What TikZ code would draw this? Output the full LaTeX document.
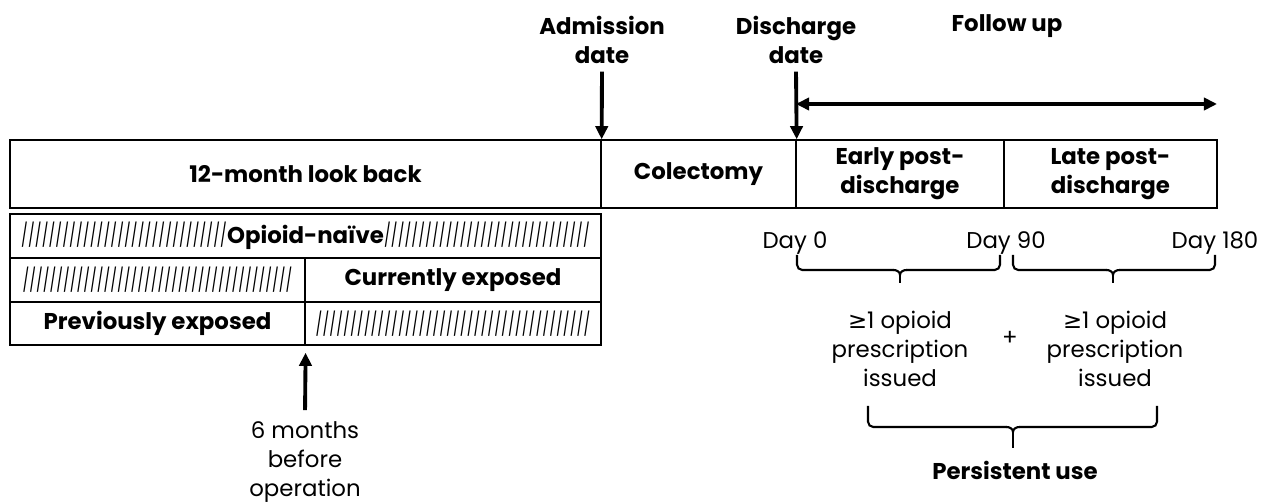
\documentclass[tikz,border=0pt]{standalone}
\usepackage{fontspec}
\setmainfont{Poppins}
\newfontfamily\symfont{DejaVu Sans}
\usetikzlibrary{arrows.meta,calc}

\newcommand\hatchfill{\xleaders\hbox{\scalebox{0.62}[1]{/}}\hfill}

\tikzset{
  cell/.style={draw, line width=0.8pt, inner sep=0pt, align=center, font=\bfseries},
  heading/.style={align=center, font=\bfseries},
  note/.style={align=center},
  tip/.style={Triangle[length=7.5pt,width=7pt]},
  pointer/.style={line width=2.2pt, -{Triangle[length=7.5pt,width=7pt]}},
  bracket/.style={line width=1.2pt, rounded corners=3pt},
}

\begin{document}
\fontsize{13}{16.5}\selectfont
\begin{tikzpicture}[x=0.02cm, y=-0.02cm]
  \useasboundingbox (0,0) rectangle (1274,502);

  % timeline bar
  \node[cell, minimum width=11.82cm, minimum height=1.36cm] (lookback) at (305.5,174) {12-month look back};
  \node[cell, minimum width=3.9cm, minimum height=1.36cm] (colectomy) at (698.5,174) {Colectomy};
  \node[cell, minimum width=4.16cm, minimum height=1.36cm] (early) at (900,174) {Early post-\\discharge};
  \node[cell, minimum width=4.26cm, minimum height=1.36cm] (late) at (1110.5,174) {Late post-\\discharge};

  % exposure table
  \node[cell, minimum width=11.82cm, minimum height=0.88cm] (naive) at (305.5,236)
    {\makebox[11.38cm]{\mdseries\hatchfill\textbf{Opioid-naïve}\hatchfill}};
  \node[cell, minimum width=5.9cm, minimum height=0.88cm] (curL) at (157.5,280)
    {\makebox[5.4cm]{\mdseries\hatchfill}};
  \node[cell, minimum width=5.92cm, minimum height=0.88cm] (curR) at (453,280) {Currently exposed};
  \node[cell, minimum width=5.9cm, minimum height=0.86cm] (prevL) at (157.5,323.5) {Previously exposed};
  \node[cell, minimum width=5.92cm, minimum height=0.86cm] (prevR) at (453,323.5)
    {\makebox[5.5cm]{\mdseries\hatchfill}};

  % dates
  \node[heading] (admission) at (602,40) {Admission\\date};
  \node[heading] (discharge) at (796,40) {Discharge\\date};
  \node[heading] (followup) at (1007,26) {Follow up};
  \draw[pointer] (admission.south) -- (lookback.north east);
  \draw[pointer] (discharge.south) -- (colectomy.north east);
  \coordinate (fu0) at (796,104);
  \coordinate (fu1) at (1217,104);
  \draw[pointer, {Triangle[length=7.5pt,width=7pt]}-{Triangle[length=7.5pt,width=7pt]}] (fu0) -- (fu1);

  % days
  \node[note] (day0) at (795,243) {Day 0};
  \node[note] (day90) at (1006,243) {Day 90};
  \node[note] (day180) at (1215,243) {Day 180};

  \coordinate (b1a) at (797,255);
  \coordinate (b1b) at (1000,255);
  \coordinate (b1m) at (900,270);
  \coordinate (b2a) at (1013,255);
  \coordinate (b2b) at (1215,255);
  \coordinate (b2m) at (1113,270);
  \coordinate (b3a) at (868,406);
  \coordinate (b3b) at (1157,406);
  \coordinate (b3m) at (1013,427);
  \foreach \b/\t in {b1/13, b2/13, b3/21}{
    \draw[bracket] (\b a) |- ($(\b m)+(-6,0)$);
    \draw[bracket] (\b b) |- ($(\b m)+(6,0)$);
    \draw[line width=1.2pt] ($(\b m)+(-6.5,0)$) to[out=0,in=90] ($(\b m)+(0,5)$)
      to[out=90,in=180] ($(\b m)+(6.5,0)$);
    \draw[line width=1.2pt] ($(\b m)+(0,4)$) -- ($(\b m)+(0,\t)$);
  }

  \node[note] (rx1) at (900,349) {{\symfont ≥}1 opioid\\prescription\\issued};
  \node[note] (plus) at (1010,338) {+};
  \node[note] (rx2) at (1115,349) {{\symfont ≥}1 opioid\\prescription\\issued};
  \node[heading] (persist) at (1015,470) {Persistent use};

  % six months mark
  \node[note] (sixmonths) at (305,462) {6 months\\before\\operation};
  \draw[pointer, shorten >=4pt, shorten <=2pt] (sixmonths.north) -- (prevL.south east);
\end{tikzpicture}
\end{document}
